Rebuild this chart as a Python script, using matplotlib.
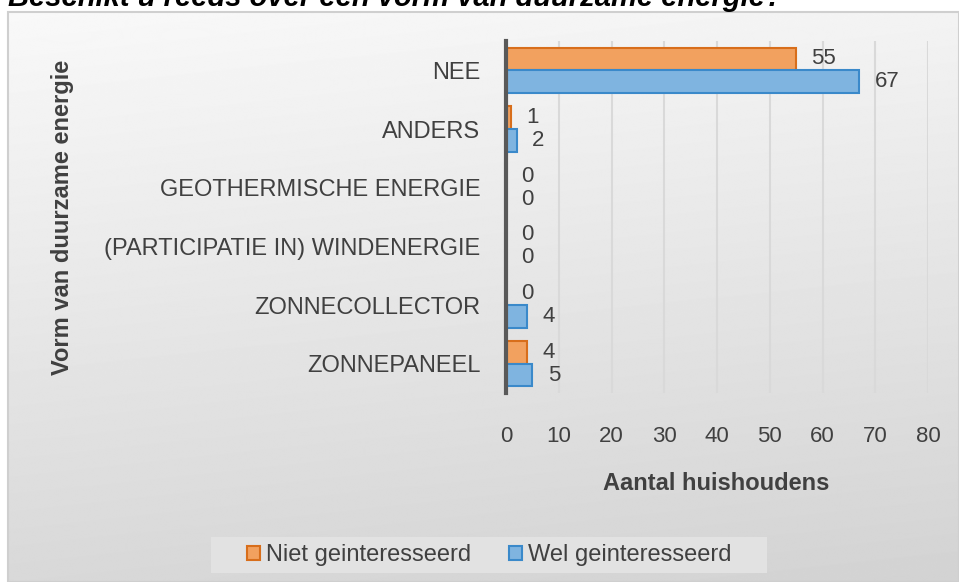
import numpy as np
import matplotlib
matplotlib.use("Agg")
import matplotlib.pyplot as plt
from matplotlib.patches import Rectangle

plt.rcParams['font.family'] = ['Liberation Sans', 'DejaVu Sans']

# data, top category first
categories = ['NEE', 'ANDERS', 'GEOTHERMISCHE ENERGIE',
              '(PARTICIPATIE IN) WINDENERGIE', 'ZONNECOLLECTOR', 'ZONNEPANEEL']
niet = [55, 1, 0, 0, 0, 4]
wel = [67, 2, 0, 0, 4, 5]
series_names = ['Niet geinteresseerd', 'Wel geinteresseerd']
xticks = [0, 10, 20, 30, 40, 50, 60, 70, 80]

txt = '#404040'
W, H = 959, 582
fig = plt.figure(figsize=(W / 100, H / 100), dpi=100)

# background panel with soft grey gradient
bg = fig.add_axes([0, 0, 1, 1], zorder=-5)
bg.set_xlim(0, W)
bg.set_ylim(H, 0)
bg.axis('off')
yy, xx = np.mgrid[0:H, 0:W]
t = (yy / H) * 0.85 + (xx / W) * 0.15
grad = 0.975 - 0.15 * t
bg.imshow(grad, cmap='gray', vmin=0, vmax=1, extent=(8, W, H, 12), aspect='auto')
bg.add_patch(Rectangle((8, 12), W - 8, H - 12, fill=False, ec='#cfcfcf', lw=1.5))
# legend backdrop
bg.add_patch(Rectangle((211, 537), 556, 36, color='#e2e2e2', lw=0))

fig.text(8 / W, 1 - 6 / H, 'Beschikt u reeds over een vorm van duurzame energie?',
         fontsize=21, fontweight='bold', fontstyle='italic', color='black',
         va='baseline', ha='left')

ax = fig.add_axes([506 / W, 1 - 393 / H, 422 / W, 352 / H])
ax.patch.set_alpha(0)

y = np.arange(len(categories))
h = 0.387
ax.barh(y - h / 2, niet, height=h, color='#F2A15F', edgecolor='#D86E1B', lw=1.5,
        label=series_names[0], zorder=3)
ax.barh(y + h / 2, wel, height=h, color='#7FB4E0', edgecolor='#3A89CA', lw=1.5,
        label=series_names[1], zorder=3)

for i in range(len(categories)):
    ax.annotate(str(niet[i]), (niet[i], y[i] - h / 2), xytext=(11, 0),
                textcoords='offset points', va='center', ha='left',
                fontsize=16, color=txt)
    ax.annotate(str(wel[i]), (wel[i], y[i] + h / 2), xytext=(11, 0),
                textcoords='offset points', va='center', ha='left',
                fontsize=16, color=txt)

ax.set_ylim(len(categories) - 0.5, -0.5)
ax.set_xlim(0, 80)
ax.set_xticks(xticks)
ax.set_yticks(y)
ax.set_yticklabels(categories)
ax.tick_params(axis='both', length=0, labelcolor=txt)
ax.tick_params(axis='x', pad=24, labelsize=16)
ax.tick_params(axis='y', pad=18.5, labelsize=17)
ax.grid(axis='x', color='#d9d9d9', lw=1.5, zorder=0)
for s in ['top', 'right', 'bottom']:
    ax.spines[s].set_visible(False)
ax.spines['left'].set_color('#595959')
ax.spines['left'].set_linewidth(3)
ax.spines['left'].set_zorder(4)

fig.text(716 / W, 1 - 483 / H, 'Aantal huishoudens', fontsize=17,
         fontweight='bold', color=txt, ha='center', va='center')
fig.text(62 / W, 1 - 217 / H, 'Vorm van duurzame energie', fontsize=17,
         fontweight='bold', color=txt, ha='center', va='center', rotation=90)

leg = fig.legend(loc='center', bbox_to_anchor=(489 / W, 1 - 555 / H), ncol=2,
                 fontsize=17, frameon=False, handlelength=0.55,
                 handleheight=0.55, handletextpad=0.25, columnspacing=1.6,
                 borderpad=0.2)
for tx in leg.get_texts():
    tx.set_color(txt)

fig.savefig('out.png', dpi=100)
